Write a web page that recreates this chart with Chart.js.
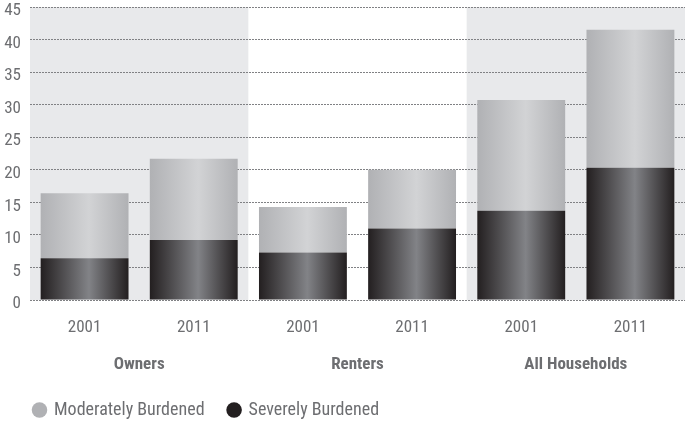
<!DOCTYPE html>
<html><head><meta charset="utf-8">
<script src="https://cdn.jsdelivr.net/npm/chart.js@4.4.1/dist/chart.umd.min.js"></script>
<style>html,body{margin:0;padding:0;background:#fff;}#wrap{width:685px;height:421px;position:relative;}</style>
</head><body><div id="wrap"><canvas id="c"></canvas></div>
<script>
// ---- data ----
const categories = ['2001', '2011', '2001', '2011', '2001', '2011'];
const groups = ['Owners', 'Renters', 'All Households'];
const severelyBurdened = [6.4, 9.2, 7.3, 11.0, 13.7, 20.3];
const moderatelyBurdened = [10.0, 12.5, 7.0, 9.0, 17.0, 21.2];
const yTicks = [0, 5, 10, 15, 20, 25, 30, 35, 40, 45];
const shadedGroups = [0, 2];

// ---- styles ----
const FONT = "'Roboto Condensed','Liberation Sans Narrow','DejaVu Sans Condensed',sans-serif";
const TEXT = '#6d6e71';
const BAR_PCT = 0.805;
const severeStops = ['#231f20', '#828387', '#231f20'];
const moderateStops = ['#b0b1b4', '#d2d3d5', '#b0b1b4'];

function barGradient(stops) {
  return function (ctx) {
    const chart = ctx.chart;
    const xs = chart.scales && chart.scales.x;
    if (!xs || ctx.dataIndex === undefined || !isFinite(xs.width)) return stops[0];
    const cx = xs.getPixelForValue(ctx.dataIndex);
    const half = xs.width / categories.length * BAR_PCT / 2;
    const g = chart.ctx.createLinearGradient(cx - half, 0, cx + half, 0);
    g.addColorStop(0, stops[0]);
    g.addColorStop(0.55, stops[1]);
    g.addColorStop(1, stops[2]);
    return g;
  };
}

const bandPlugin = {
  id: 'bands',
  beforeDraw(chart) {
    const { ctx, chartArea: a, scales: { x } } = chart;
    ctx.save();
    ctx.fillStyle = '#e8e9eb';
    shadedGroups.forEach(gi => {
      const l = x.getPixelForValue(gi * 2 - 0.5);
      const r = x.getPixelForValue(gi * 2 + 1.5);
      ctx.fillRect(l, a.top, r - l, a.bottom - a.top);
    });
    ctx.restore();
  }
};

const legendShift = {
  id: 'legendShift',
  afterLayout(chart) {
    if (chart.legend) {
      chart.legend.left += 10;
      chart.legend.top += 8;
      chart.legend.bottom += 8;
    }
  }
};

new Chart(document.getElementById('c'), {
  type: 'bar',
  data: {
    labels: categories,
    datasets: [
      { label: 'Severely Burdened', data: severelyBurdened, backgroundColor: barGradient(severeStops), legendColor: '#231f20' },
      { label: 'Moderately Burdened', data: moderatelyBurdened, backgroundColor: barGradient(moderateStops), legendColor: '#b0b1b4' }
    ]
  },
  options: {
    responsive: true,
    maintainAspectRatio: false,
    animation: false,
    devicePixelRatio: 1,
    layout: { padding: { top: 7, right: 0, left: 0, bottom: 0 } },
    datasets: { bar: { barPercentage: BAR_PCT, categoryPercentage: 1 } },
    scales: {
      x: {
        stacked: true,
        grid: { display: false },
        border: { display: false },
        ticks: { color: TEXT, font: { family: FONT, size: 17 }, padding: 10, maxRotation: 0 },
        afterFit(s) { s.height = 32; }
      },
      x2: {
        type: 'category',
        labels: groups,
        position: 'bottom',
        offset: true,
        weight: 1,
        grid: { display: false },
        border: { display: false },
        ticks: { color: TEXT, font: { family: FONT, size: 17, weight: 'bold' }, padding: 15, maxRotation: 0 },
        afterFit(s) { s.height = 37; }
      },
      y: {
        stacked: true,
        min: 0,
        max: 45,
        afterBuildTicks(s) { s.ticks = yTicks.map(v => ({ value: v })); },
        grid: { color: '#808184', lineWidth: 1, drawTicks: false },
        border: { display: false, dash: [2, 1] },
        ticks: { color: TEXT, font: { family: FONT, size: 17 }, padding: 9, labelOffset: 4 },
        afterFit(s) { s.width = 30; s.paddingTop = 0; s.paddingBottom = 0; }
      }
    },
    plugins: {
      tooltip: { enabled: false },
      legend: {
        position: 'bottom',
        align: 'start',
        reverse: true,
        labels: {
          usePointStyle: true,
          pointStyle: 'circle',
          boxWidth: 11,
          boxHeight: 11,
          padding: 24,
          color: TEXT,
          font: { family: FONT, size: 18 },
          generateLabels(chart) {
            const items = Chart.defaults.plugins.legend.labels.generateLabels(chart);
            items.forEach(it => {
              const c = chart.data.datasets[it.datasetIndex].legendColor;
              it.fillStyle = c; it.strokeStyle = c; it.lineWidth = 0;
            });
            return items;
          }
        }
      }
    }
  },
  plugins: [bandPlugin, legendShift]
});
</script>
</body></html>
